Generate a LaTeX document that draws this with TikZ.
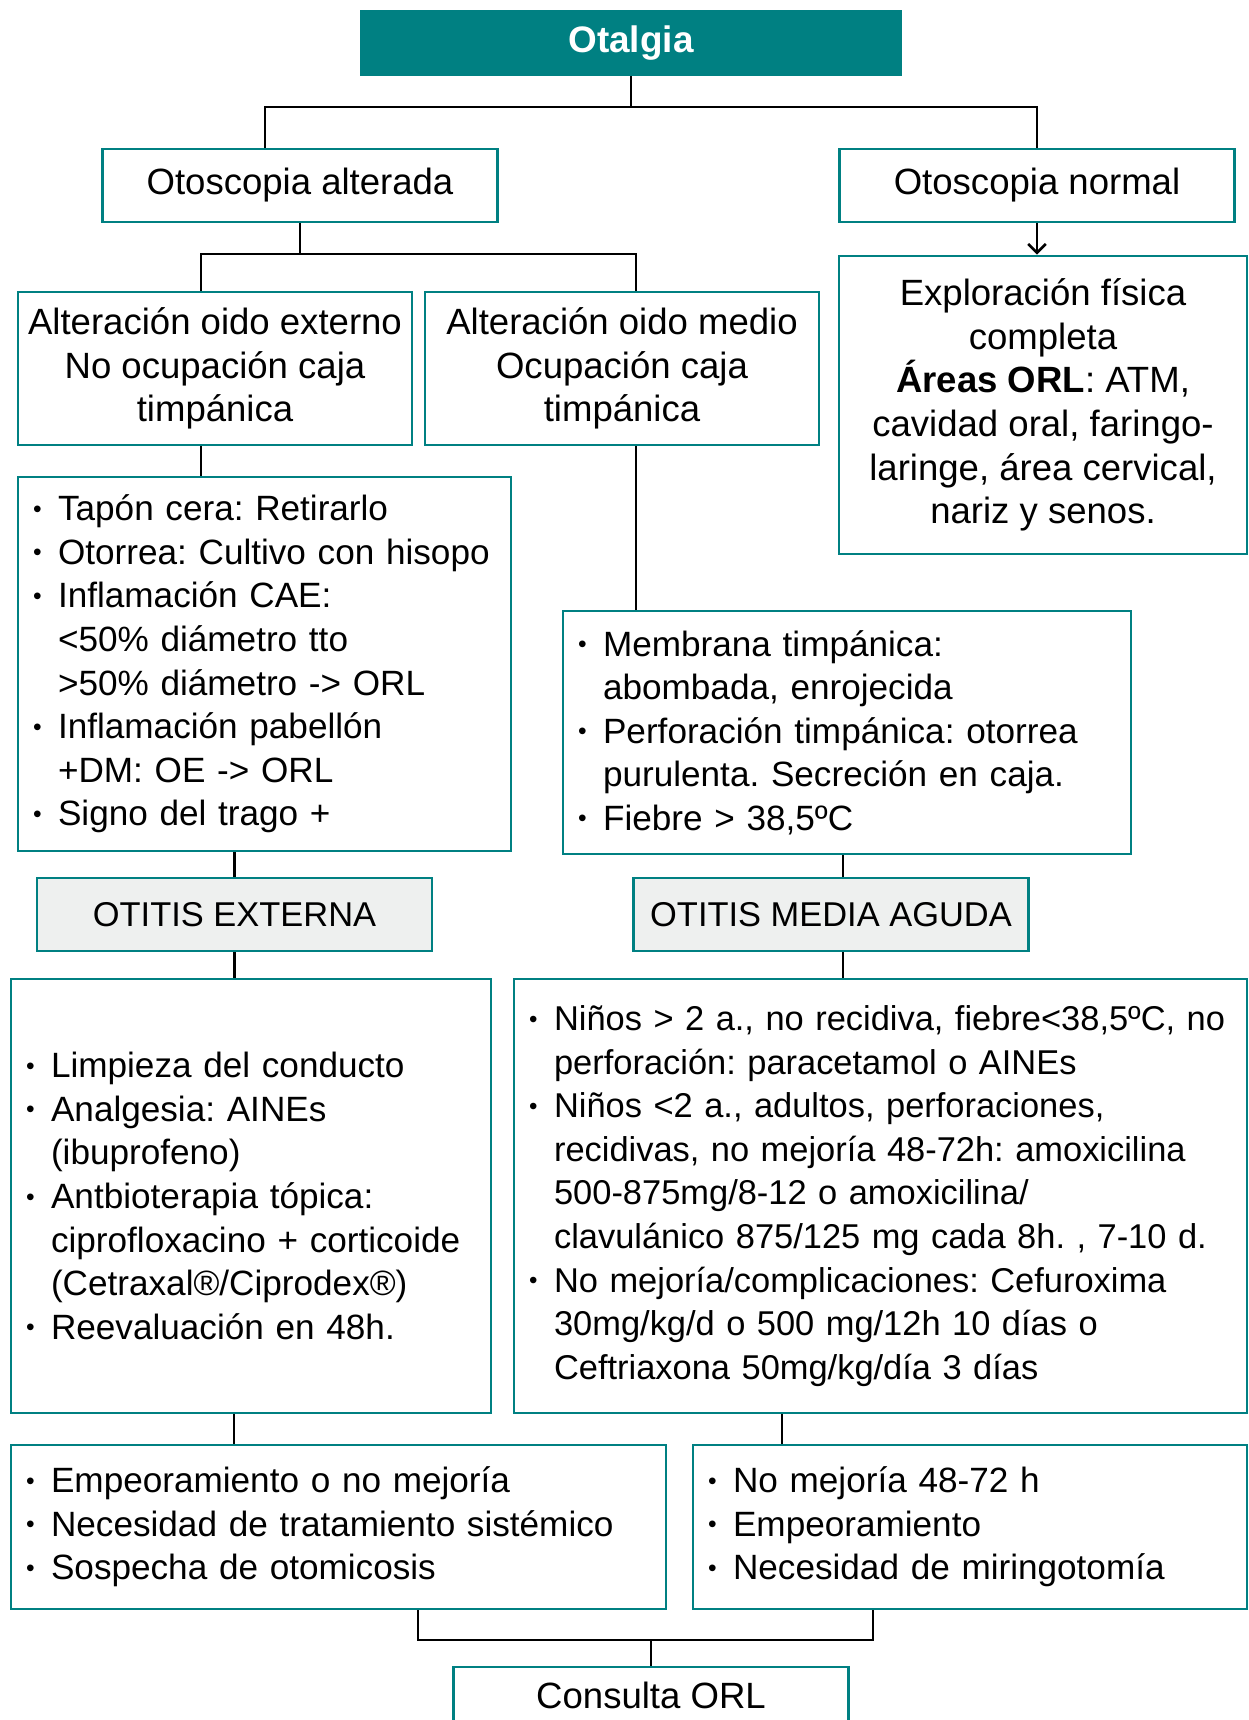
\documentclass[tikz,border=0pt]{standalone}
\usepackage{fontspec}
\setmainfont{Liberation Sans}
\usetikzlibrary{arrows.meta,positioning,calc}
\definecolor{orlteal}{RGB}{0,128,130}
\definecolor{orlgray}{RGB}{238,240,239}
\newcommand{\bul}{\makebox[0.5cm][l]{\raisebox{0.1em}{\scalebox{0.7}{\textbullet}}}}
\newcommand{\ind}{\hspace*{0.5cm}}

\begin{document}
\begin{tikzpicture}[x=0.02cm, y=-0.02cm,
    box/.style={draw=orlteal, line width=1.6pt, fill=white, minimum width=7.9cm, minimum height=1.46cm, align=center, inner sep=0pt, font=\fontsize{20.8}{24.8}\selectfont},
    list/.style={box, align=left, inner xsep=0.3cm, font=\fontsize{20}{24.8}\selectfont\frenchspacing},
    dx/.style={box, fill=orlgray, font=\fontsize{19.6}{24}\selectfont},
    link/.style={line width=1.5pt},
    arr/.style={link, -{Straight Barb[length=5pt]}}
]
\useasboundingbox (0,0) rectangle (1248,1720);

\node[box, fill=orlteal, text=white, font=\bfseries\fontsize{21}{25}\selectfont, minimum width=10.8cm, minimum height=1.28cm] (otalgia) at (631,43) {Otalgia};
\node[box] (otalt) at (300,185.5) {Otoscopia alterada};
\node[box] (otnorm) at (1037,185.5) {Otoscopia normal};
\node[box, minimum width=7.88cm, minimum height=3.06cm] (extern) at (215,368.5) {Alteración oido externo\\No ocupación caja\\timpánica};
\node[box, minimum width=7.88cm, minimum height=3.06cm] (medio) at (622,368.5) {Alteración oido medio\\Ocupación caja\\timpánica};
\node[box, minimum width=8.16cm, minimum height=5.96cm] (explor) at (1043,405) {Exploración física\\completa\\\textbf{Áreas ORL}: ATM,\\cavidad oral, faringo-\\laringe, área cervical,\\nariz y senos.};

\node[list, text width=9.26cm, minimum height=7.48cm] (sintoe) at (264.5,664) {\bul Tapón cera: Retirarlo\\\bul Otorrea: Cultivo con hisopo\\\bul Inflamación CAE:\\\ind <50\% diámetro tto\\\ind >50\% diámetro -> ORL\\\bul Inflamación pabellón\\\ind +DM: OE -> ORL\\\bul Signo del trago +};
\node[list, text width=10.76cm, minimum height=4.86cm] (sintoma) at (847,732.5) {\bul Membrana timpánica:\\\ind abombada, enrojecida\\\bul Perforación timpánica: otorrea\\\ind purulenta. Secreción en caja.\\\bul Fiebre > 38,5ºC};

\node[dx] (oe) at (234.5,914.5) {OTITIS EXTERNA};
\node[dx] (oma) at (831,914.5) {OTITIS MEDIA AGUDA};

\node[list, text width=9cm, minimum height=8.68cm] (ttoe) at (251,1196) {\bul Limpieza del conducto\\\bul Analgesia: AINEs\\\ind (ibuprofeno)\\\bul Antbioterapia tópica:\\\ind ciprofloxacino + corticoide\\\ind (Cetraxal®/Ciprodex®)\\\bul Reevaluación en 48h.};
\node[list, text width=14.06cm, minimum height=8.68cm, font=\fontsize{19.6}{24.8}\selectfont\frenchspacing] (ttoma) at (880.5,1196) {\bul Niños > 2 a., no recidiva, fiebre<38,5ºC, no\\\ind perforación: paracetamol o AINEs\\\bul Niños <2 a., adultos, perforaciones,\\\ind recidivas, no mejoría 48-72h: amoxicilina\\\ind 500-875mg/8-12 o amoxicilina/\\\ind clavulánico 875/125 mg cada 8h. , 7-10 d.\\\bul No mejoría/complicaciones: Cefuroxima\\\ind 30mg/kg/d o 500 mg/12h 10 días o\\\ind Ceftriaxona 50mg/kg/día 3 días};

\node[list, text width=12.5cm, minimum height=3.28cm] (derivoe) at (338.5,1527) {\bul Empeoramiento o no mejoría\\\bul Necesidad de tratamiento sistémico\\\bul Sospecha de otomicosis};
\node[list, text width=10.48cm, minimum height=3.28cm] (derivoma) at (970,1527) {\bul No mejoría 48-72 h\\\bul Empeoramiento\\\bul Necesidad de miringotomía};
\node[box, minimum height=1.12cm] (orl) at (651,1695) {Consulta ORL};

\coordinate (j1) at (631,107);
\coordinate (j2) at (300,254);
\coordinate (j3) at (651,1640);
\coordinate (d1) at ([xshift=-0.28cm]extern.south);
\coordinate (d2) at ([xshift=0.28cm]medio.south);
\coordinate (d3) at ([xshift=0.24cm]oma.north);
\coordinate (d4) at ([xshift=0.24cm]oma.south);
\coordinate (d5) at ([xshift=-0.34cm]ttoe.south);
\coordinate (d6) at ([xshift=-1.97cm]ttoma.south);
\coordinate (d7) at ([xshift=1.59cm]derivoe.south);
\coordinate (d8) at ([xshift=-1.94cm]derivoma.south);

\draw[link] (otalgia) -- (j1);
\draw[link] ([xshift=-0.7cm]otalt.north) |- (j1) -| (otnorm.north);
\draw[link] (otalt) -- (j2);
\draw[link] ([xshift=-0.28cm]extern.north) |- (j2) -| ([xshift=0.28cm]medio.north);
\draw[arr] (otnorm.south) -- (otnorm.south |- explor.north);
\draw[link] (d1) -- (d1 |- sintoe.north);
\draw[link] (d2) -- (d2 |- sintoma.north);
\draw[link] (oe.north) -- (oe.north |- sintoe.south);
\draw[link] (d3) -- (d3 |- sintoma.south);
\draw[link] (oe.south) -- (oe.south |- ttoe.north);
\draw[link] (d4) -- (d4 |- ttoma.north);
\draw[link] (d5) -- (d5 |- derivoe.north);
\draw[link] (d6) -- (d6 |- derivoma.north);
\draw[link] (d7) |- (j3) -| (d8);
\draw[link] (j3) -- (orl.north);
\end{tikzpicture}
\end{document}
